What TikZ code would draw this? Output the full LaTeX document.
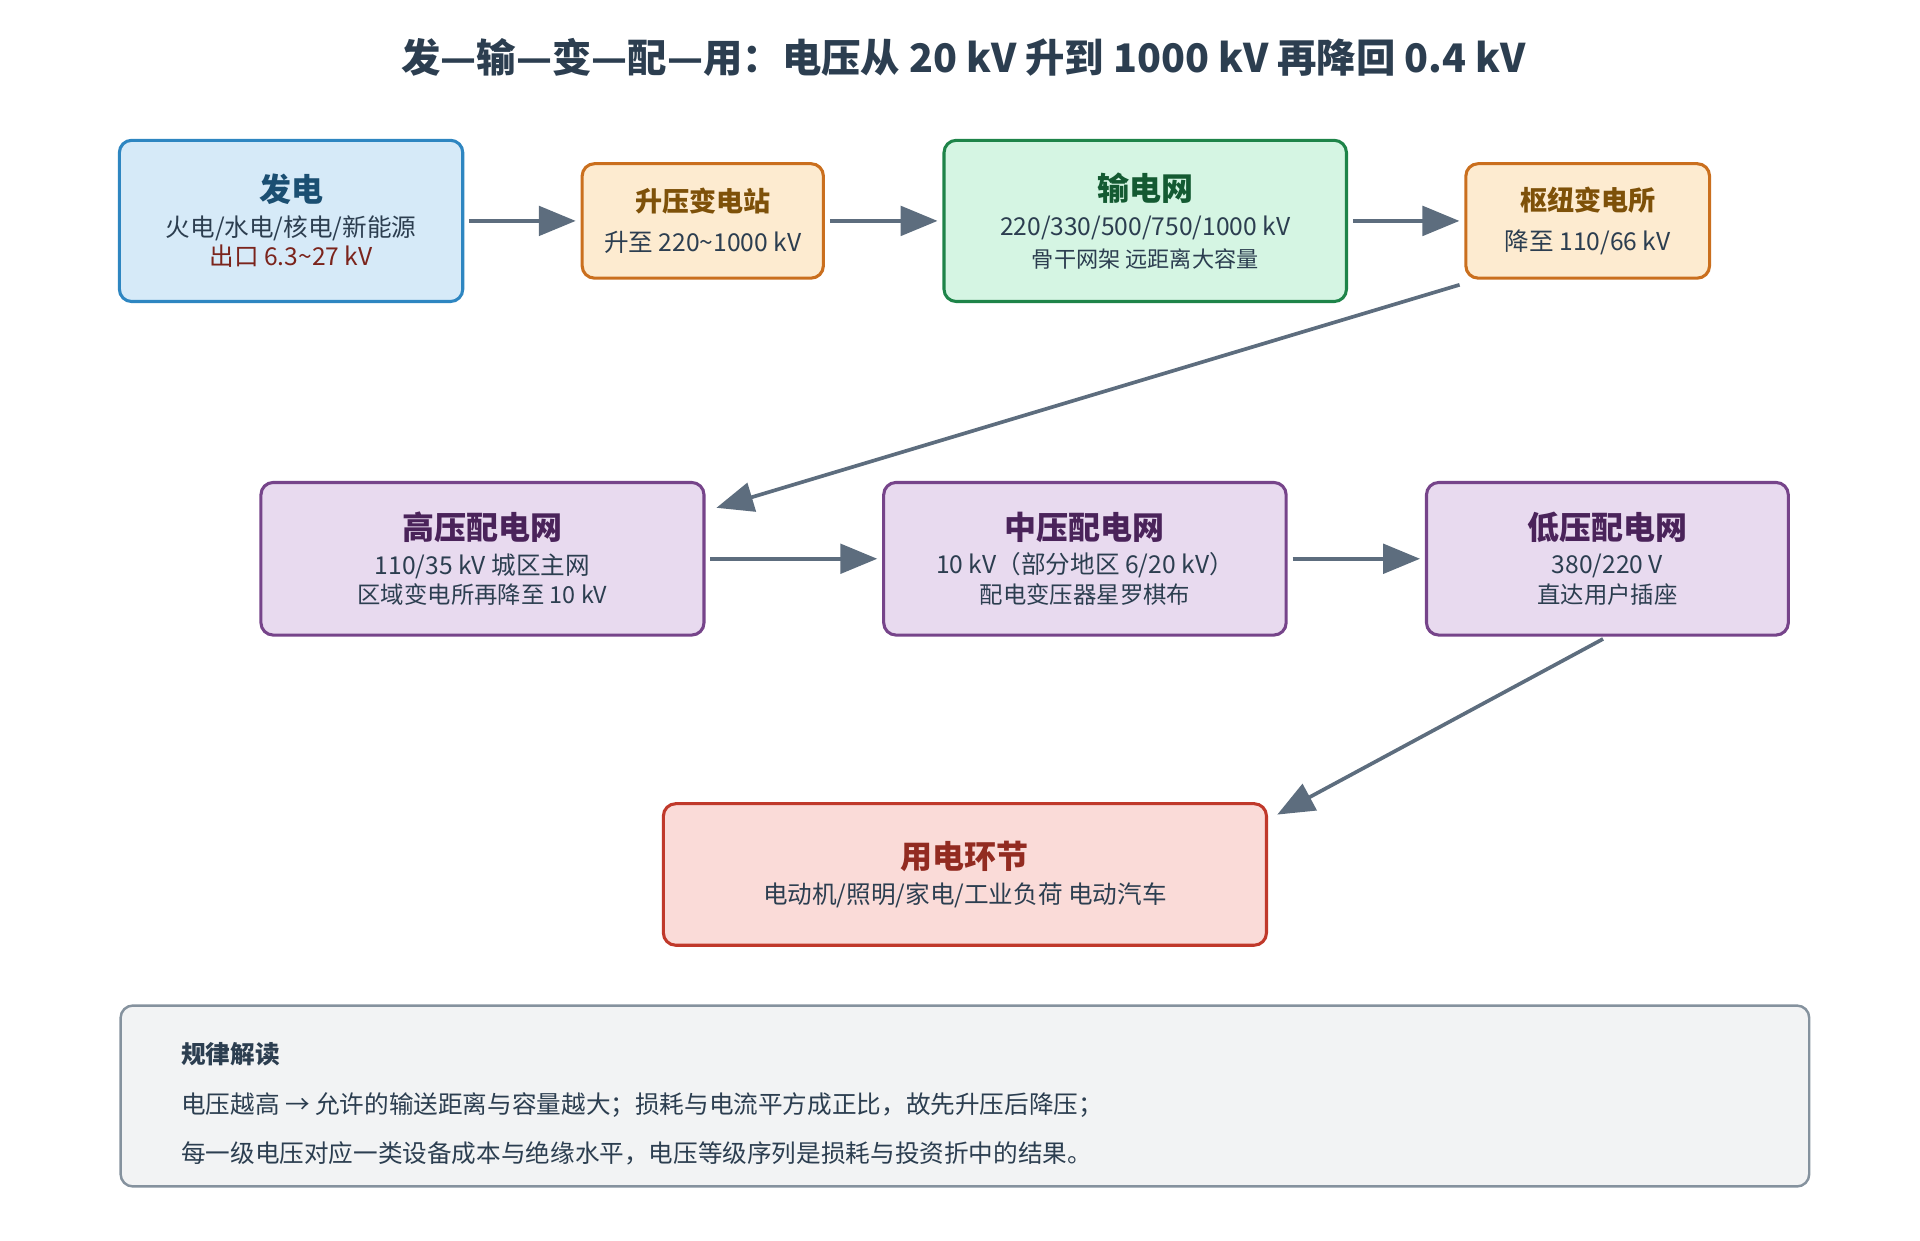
\documentclass[tikz,border=0pt]{standalone}
\usepackage{fontspec}
\setmainfont{Noto Sans CJK SC}
\usetikzlibrary{arrows.meta}
\definecolor{ink}{HTML}{2C3E50}
\definecolor{arrowc}{HTML}{5D6D7E}
\tikzset{
  box/.style={draw, rounded corners=10pt, line width=2.5pt, align=center, inner sep=0pt, text=ink, font=\fontsize{20}{30}\selectfont},
  ttl/.style={font=\fontsize{26}{32}\selectfont\bfseries},
  flow/.style={draw=arrowc, line width=3pt, -{Triangle[length=30pt,width=24pt]}, shorten <=4pt, shorten >=4pt}
}
\begin{document}
\begin{tikzpicture}[x=1pt,y=1pt,yscale=-1]
\useasboundingbox (0,0) rectangle (1560,1008);

% title
\node (title) [text=ink, font=\fontsize{32}{38}\selectfont\bfseries] at (783,47) {发—输—变—配—用：电压从 20 kV 升到 1000 kV 再降回 0.4 kV};

% first row
\node (gen) [box, fill={rgb,255:red,214;green,234;blue,248}, draw={rgb,255:red,46;green,134;blue,193}, minimum width=279pt, minimum height=131pt] at (236.5,179.5)
  {\textcolor[HTML]{1B4F72}{\fontsize{26}{32}\selectfont\bfseries 发电}\\[-2pt]火电/水电/核电/新能源\\[-6pt]\textcolor[HTML]{7B241C}{出口 6.3\textasciitilde27 kV}};
\node (step) [box, fill={rgb,255:red,253;green,235;blue,208}, draw={rgb,255:red,202;green,111;blue,30}, minimum width=196pt, minimum height=93pt] at (571,179.5)
  {\textcolor[HTML]{7E5109}{\fontsize{22}{28}\selectfont\bfseries 升压变电站}\\[2pt]升至 220\textasciitilde1000 kV};
\node (grid) [box, fill={rgb,255:red,213;green,245;blue,227}, draw={rgb,255:red,30;green,132;blue,73}, minimum width=327pt, minimum height=131pt] at (930.5,179.5)
  {\textcolor[HTML]{145A32}{\fontsize{26}{32}\selectfont\bfseries 输电网}\\[-2pt]220/330/500/750/1000 kV\\[-4pt]{\fontsize{18}{24}\selectfont 骨干网架 远距离大容量}};
\node (hub) [box, fill={rgb,255:red,253;green,235;blue,208}, draw={rgb,255:red,202;green,111;blue,30}, minimum width=198pt, minimum height=93pt] at (1290,179.5)
  {\textcolor[HTML]{7E5109}{\fontsize{22}{28}\selectfont\bfseries 枢纽变电所}\\[2pt]降至 110/66 kV};

% second row
\node (hv) [box, fill={rgb,255:red,232;green,218;blue,239}, draw={rgb,255:red,118;green,68;blue,138}, minimum width=360pt, minimum height=124pt] at (392,454)
  {\textcolor[HTML]{4A235A}{\fontsize{26}{32}\selectfont\bfseries 高压配电网}\\[-2pt]110/35 kV 城区主网\\[-6pt]{\fontsize{19}{24}\selectfont 区域变电所再降至 10 kV}};
\node (mv) [box, fill={rgb,255:red,232;green,218;blue,239}, draw={rgb,255:red,118;green,68;blue,138}, minimum width=327pt, minimum height=124pt] at (881.5,454)
  {\textcolor[HTML]{4A235A}{\fontsize{26}{32}\selectfont\bfseries 中压配电网}\\[-2pt]10 kV（部分地区 6/20 kV）\\[-6pt]{\fontsize{19}{24}\selectfont 配电变压器星罗棋布}};
\node (lv) [box, fill={rgb,255:red,232;green,218;blue,239}, draw={rgb,255:red,118;green,68;blue,138}, minimum width=294pt, minimum height=124pt] at (1306,454)
  {\textcolor[HTML]{4A235A}{\fontsize{26}{32}\selectfont\bfseries 低压配电网}\\[-2pt]380/220 V\\[-6pt]{\fontsize{19}{24}\selectfont 直达用户插座}};

% third row
\node (use) [box, fill={rgb,255:red,250;green,219;blue,216}, draw={rgb,255:red,192;green,57;blue,43}, minimum width=490pt, minimum height=115pt] at (784,710.5)
  {\textcolor[HTML]{922B21}{\fontsize{26}{32}\selectfont\bfseries 用电环节}\\[-2pt]电动机/照明/家电/工业负荷 电动汽车};

% note
\node (note) [draw={rgb,255:red,133;green,146;blue,158}, fill={rgb,255:red,242;green,243;blue,244}, rounded corners=10pt, line width=2pt, minimum width=1372pt, minimum height=147pt] at (784,890.5) {};
\node (notetxt) [anchor=west, align=left, text=ink, font=\fontsize{20}{40}\selectfont, inner sep=0pt] at (147,897)
  {{\bfseries 规律解读}\\电压越高 → 允许的输送距离与容量越大；损耗与电流平方成正比，故先升压后降压；\\每一级电压对应一类设备成本与绝缘水平，电压等级序列是损耗与投资折中的结果。};

% arrows
\draw [flow] (gen) -- (step);
\draw [flow] (step) -- (grid);
\draw [flow] (grid) -- (hub);
\draw [flow] ([yshift=3pt]hub.south west) -- ([xshift=5pt,yshift=23pt]hv.north east);
\draw [flow] (hv) -- (mv);
\draw [flow] (mv) -- (lv);
\draw [flow] (lv.south) -- ([xshift=4pt,yshift=12pt]use.north east);
\end{tikzpicture}
\end{document}
